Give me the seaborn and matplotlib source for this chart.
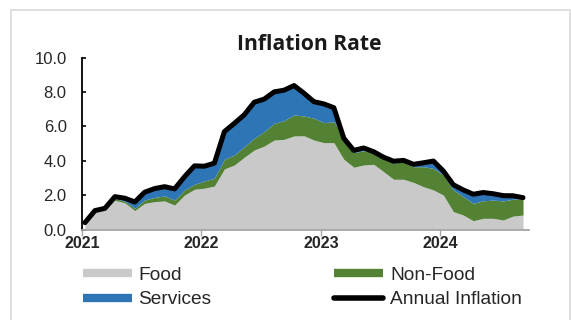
import numpy as np
import pandas as pd
import matplotlib
matplotlib.use("Agg")
import matplotlib.pyplot as plt
from matplotlib.lines import Line2D
from matplotlib.patches import Rectangle
import seaborn as sns

# ---- data (monthly, Jan 2021 - Sep 2024) ----
food = [0.35, 1.00, 1.15, 1.70, 1.55, 1.10, 1.52, 1.62, 1.66, 1.42, 2.00, 2.34,
        2.40, 2.53, 3.52, 3.75, 4.20, 4.62, 4.85, 5.20, 5.24, 5.44, 5.45, 5.20,
        5.05, 5.05, 4.08, 3.62, 3.75, 3.79, 3.36, 2.92, 2.92, 2.74, 2.49, 2.30,
        2.00, 1.04, 0.84, 0.51, 0.65, 0.65, 0.55, 0.78, 0.84]
non_food = [0.00, 0.00, 0.00, 0.10, 0.10, 0.13, 0.19, 0.25, 0.29, 0.29, 0.30, 0.29,
            0.42, 0.45, 0.56, 0.58, 0.61, 0.68, 0.84, 0.97, 1.09, 1.22, 1.15, 1.27,
            1.16, 1.22, 1.32, 0.85, 0.83, 0.68, 0.78, 0.93, 1.02, 0.91, 1.16, 1.25,
            1.17, 1.26, 1.07, 1.01, 1.02, 1.06, 1.11, 0.98, 0.94]
services = [0.05, 0.10, 0.08, 0.11, 0.17, 0.37, 0.46, 0.51, 0.54, 0.65, 0.77, 1.07,
            0.86, 0.88, 1.61, 1.84, 1.86, 2.10, 1.89, 2.00, 1.85, 1.85, 1.32, 0.96,
            1.09, 0.81, 0.00, 0.13, 0.20, 0.05, 0.06, 0.12, 0.08, 0.14, 0.23, 0.43,
            0.23, 0.30, 0.39, 0.53, 0.48, 0.37, 0.31, 0.20, 0.07]
annual = [0.40, 1.10, 1.23, 1.91, 1.82, 1.60, 2.17, 2.38, 2.49, 2.36, 3.07, 3.70,
          3.68, 3.86, 5.69, 6.17, 6.67, 7.40, 7.58, 8.00, 8.10, 8.37, 7.92, 7.43,
          7.30, 7.08, 5.30, 4.60, 4.74, 4.52, 4.20, 3.97, 4.02, 3.79, 3.88, 3.98,
          3.40, 2.60, 2.30, 2.05, 2.15, 2.08, 1.97, 1.96, 1.85]
year_labels = ["2021", "2022", "2023", "2024"]
y_ticks = [0, 2, 4, 6, 8, 10]
series_names = ["Food", "Non-Food", "Services", "Annual Inflation"]

df = pd.DataFrame({"month": np.arange(len(food)), "Food": food,
                   "Non-Food": non_food, "Services": services,
                   "Annual Inflation": annual})

sns.set_theme(style="white")
plt.rcParams["font.family"] = ["Liberation Sans", "DejaVu Sans"]

C_FOOD = "#c9c9c9"
C_NONFOOD = "#548235"
C_SERV = "#2e75b6"

fig = plt.figure(figsize=(5.71, 3.2), dpi=100)
fig.patch.set_facecolor("white")
fig.patches.append(Rectangle((11 / 571, -0.1), 559 / 571, 1.1 - 10 / 320,
                             transform=fig.transFigure, fill=False,
                             edgecolor="#d9d9d9", lw=1.2, zorder=0))

ax = fig.add_axes([82 / 571, 1 - 229.5 / 320, 447 / 571, 172 / 320])
ax.set_facecolor("white")

ax.stackplot(df["month"], df["Food"], df["Non-Food"], df["Services"],
             colors=[C_FOOD, C_NONFOOD, C_SERV], linewidth=0)
sns.lineplot(data=df, x="month", y="Annual Inflation", ax=ax, color="black",
             lw=3.6, legend=False, solid_capstyle="round")

ax.set_xlim(-0.3, 44.6)
ax.set_ylim(0, 10)
ax.set_xticks([-0.3 + 12 * k for k in range(len(year_labels))])
ax.set_xticklabels(year_labels, fontweight="bold", fontsize=11.5)
ax.set_yticks(y_ticks)
ax.set_yticklabels([f"{v:.1f}" for v in y_ticks], fontsize=12, color="#262626")
ax.set_xlabel("")
ax.set_ylabel("")

for s in ["top", "right"]:
    ax.spines[s].set_visible(False)
ax.spines["left"].set_color("black")
ax.spines["left"].set_linewidth(1.3)
ax.spines["bottom"].set_color("#a6a6a6")
ax.spines["bottom"].set_linewidth(1.3)
ax.tick_params(axis="y", direction="in", length=3, width=1.2, color="black",
               pad=11, left=True)
ax.tick_params(axis="x", direction="out", length=4, width=1, color="#a6a6a6",
               pad=1, bottom=True)

fig.text(309 / 571, 1 - 45 / 320, "Inflation Rate", ha="center", va="center",
         fontsize=15.2, fontweight="bold", family=["Open Sans", "DejaVu Sans"],
         color="#1a1a1a")

handles = [Line2D([], [], color=C_FOOD, lw=6, solid_capstyle="butt"),
           Line2D([], [], color=C_SERV, lw=6, solid_capstyle="butt"),
           Line2D([], [], color=C_NONFOOD, lw=6, solid_capstyle="butt"),
           Line2D([], [], color="black", lw=4, solid_capstyle="round")]
labels = [series_names[0], series_names[2], series_names[1], series_names[3]]
fig.legend(handles, labels, ncol=2, loc="upper left",
           bbox_to_anchor=(77 / 571, 1 - 261 / 320), frameon=False,
           prop={"size": 13.8, "family": ["Liberation Sans", "DejaVu Sans"]},
           handlelength=2.55, handletextpad=0.36,
           columnspacing=6.4, labelspacing=0.36, borderaxespad=0, borderpad=0.3)

fig.savefig("out.png", dpi=100, facecolor="white")
